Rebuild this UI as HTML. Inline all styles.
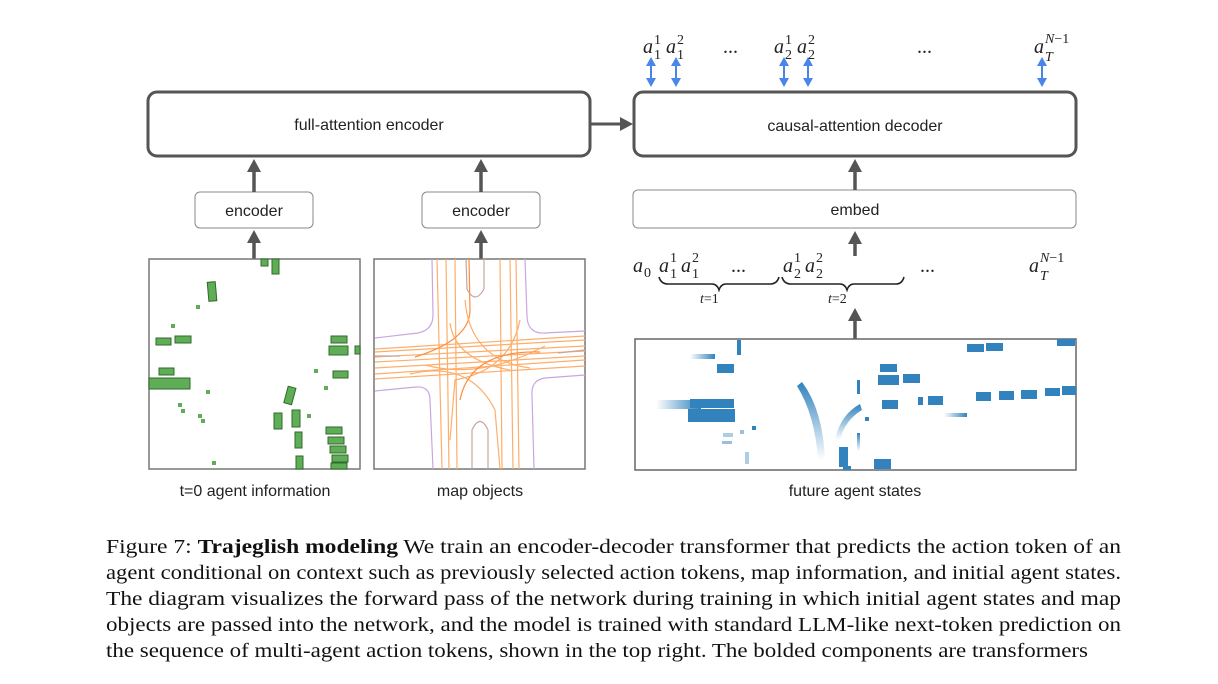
<!DOCTYPE html>
<html><head><meta charset="utf-8"><style>
html,body{margin:0;padding:0;background:#fff;}
svg{display:block;}
.sans{font-family:"Liberation Sans",sans-serif;}
.ser{font-family:"Liberation Serif",serif;}
.m{font-family:"Liberation Serif",serif;font-style:italic;}
</style></head><body>
<svg width="1218" height="684" viewBox="0 0 1218 684" xmlns="http://www.w3.org/2000/svg">
<defs>
<marker id="ah" markerWidth="10" markerHeight="10" refX="5" refY="5" orient="auto" markerUnits="userSpaceOnUse">
<path d="M0,0 L10,5 L0,10 z" fill="#555"/></marker>
<linearGradient id="fl" x1="1" x2="0" y1="0" y2="0"><stop offset="0" stop-color="#3182bd"/><stop offset="1" stop-color="#3182bd" stop-opacity="0"/></linearGradient>
<linearGradient id="fd" x1="0" x2="0" y1="0" y2="1"><stop offset="0" stop-color="#3182bd"/><stop offset="1" stop-color="#3182bd" stop-opacity="0"/></linearGradient>
</defs>

<!-- big boxes -->
<rect x="148" y="92" width="442" height="64" rx="9" fill="#fff" stroke="#555" stroke-width="3"/>
<text x="369" y="130" class="sans" font-size="16" text-anchor="middle" fill="#222">full-attention encoder</text>
<rect x="634" y="92" width="442" height="64" rx="9" fill="#fff" stroke="#555" stroke-width="3"/>
<text x="855" y="131" class="sans" font-size="16" text-anchor="middle" fill="#222">causal-attention decoder</text>
<line x1="591" y1="124" x2="624" y2="124" stroke="#555" stroke-width="3"/>
<path d="M620,117 L633,124 L620,131 z" fill="#555"/>

<!-- small boxes -->
<rect x="195" y="192" width="118" height="36" rx="5" fill="#fff" stroke="#888" stroke-width="1"/>
<text x="254" y="216" class="sans" font-size="16" text-anchor="middle" fill="#222">encoder</text>
<rect x="422" y="192" width="118" height="36" rx="5" fill="#fff" stroke="#888" stroke-width="1"/>
<text x="481" y="216" class="sans" font-size="16" text-anchor="middle" fill="#222">encoder</text>
<rect x="633" y="190" width="443" height="38" rx="5" fill="#fff" stroke="#888" stroke-width="1"/>
<text x="855" y="215" class="sans" font-size="16" text-anchor="middle" fill="#222">embed</text>

<!-- up arrows -->
<g stroke="#555" stroke-width="3.5" fill="#555">
<line x1="254" y1="192" x2="254" y2="170"/><path d="M247,172 L254,159 L261,172 z" stroke="none"/>
<line x1="481" y1="192" x2="481" y2="170"/><path d="M474,172 L481,159 L488,172 z" stroke="none"/>
<line x1="855" y1="190" x2="855" y2="170"/><path d="M848,172 L855,159 L862,172 z" stroke="none"/>
<line x1="254" y1="259" x2="254" y2="242"/><path d="M247,243 L254,230 L261,243 z" stroke="none"/>
<line x1="481" y1="259" x2="481" y2="242"/><path d="M474,243 L481,230 L488,243 z" stroke="none"/>
<line x1="855" y1="256" x2="855" y2="243"/><path d="M848,244 L855,231 L862,244 z" stroke="none"/>
<line x1="855" y1="339" x2="855" y2="320"/><path d="M848,321 L855,308 L862,321 z" stroke="none"/>
</g>

<!-- blue double arrows -->
<g fill="#4a86e8" stroke="#4a86e8" stroke-width="2">
<g id="da"><line x1="651" y1="63" x2="651" y2="81"/><path d="M646,66 L651,57 L656,66 z" stroke="none"/><path d="M646,78 L651,87 L656,78 z" stroke="none"/></g>
<use href="#da" x="25"/><use href="#da" x="133"/><use href="#da" x="157"/><use href="#da" x="391"/>
</g>

<!-- top tokens -->
<g class="m" font-size="20" fill="#222">
<text x="643" y="53">a</text><text x="654" y="59" font-size="14" font-style="normal">1</text><text x="654" y="44" font-size="14" font-style="normal">1</text>
<text x="666" y="53">a</text><text x="677" y="59" font-size="14" font-style="normal">1</text><text x="677" y="44" font-size="14" font-style="normal">2</text>
<text x="723" y="53" font-style="normal">...</text>
<text x="774" y="53">a</text><text x="785" y="59" font-size="14" font-style="normal">2</text><text x="785" y="44" font-size="14" font-style="normal">1</text>
<text x="797" y="53">a</text><text x="808" y="59" font-size="14" font-style="normal">2</text><text x="808" y="44" font-size="14" font-style="normal">2</text>
<text x="917" y="53" font-style="normal">...</text>
<text x="1034" y="53">a</text><text x="1045" y="61" font-size="14">T</text><text x="1045" y="43" font-size="14">N<tspan font-style="normal">−1</tspan></text>
</g>

<!-- bottom tokens -->
<g class="m" font-size="20" fill="#222">
<text x="633" y="272">a</text><text x="644" y="277" font-size="14" font-style="normal">0</text>
<text x="659" y="272">a</text><text x="670" y="278" font-size="14" font-style="normal">1</text><text x="670" y="262" font-size="14" font-style="normal">1</text>
<text x="681" y="272">a</text><text x="692" y="278" font-size="14" font-style="normal">1</text><text x="692" y="262" font-size="14" font-style="normal">2</text>
<text x="731" y="272" font-style="normal">...</text>
<text x="783" y="272">a</text><text x="794" y="278" font-size="14" font-style="normal">2</text><text x="794" y="262" font-size="14" font-style="normal">1</text>
<text x="805" y="272">a</text><text x="816" y="278" font-size="14" font-style="normal">2</text><text x="816" y="262" font-size="14" font-style="normal">2</text>
<text x="920" y="272" font-style="normal">...</text>
<text x="1029" y="272">a</text><text x="1040" y="280" font-size="14">T</text><text x="1040" y="262" font-size="14">N<tspan font-style="normal">−1</tspan></text>
<text x="700" y="303" font-size="14">t<tspan font-style="normal">=1</tspan></text>
<text x="828" y="303" font-size="14">t<tspan font-style="normal">=2</tspan></text>
</g>
<g fill="none" stroke="#222" stroke-width="1.6">
<path d="M659,277 Q661,284 668,284 L712,284 Q717,284 719,290 Q721,284 726,284 L770,284 Q777,284 779,277"/>
<path d="M782,277 Q784,284 791,284 L840,284 Q845,284 847,290 Q849,284 854,284 L896,284 Q902,284 904,277"/>
</g>

<!-- agent panel -->
<rect x="149" y="259" width="211" height="210" fill="#fff" stroke="#777" stroke-width="1.5"/>
<g fill="#5fad56" stroke="#2f6b2a" stroke-width="1">
<rect x="261" y="259" width="7" height="7"/><rect x="272" y="259" width="7" height="15"/>
<rect x="208" y="282" width="8" height="19" transform="rotate(-5 212 291)"/>
<rect x="156" y="338" width="15" height="7"/><rect x="175" y="336" width="16" height="7"/>
<rect x="159" y="368" width="15" height="7"/><rect x="149" y="378" width="41" height="11"/>
<rect x="331" y="336" width="16" height="7"/><rect x="329" y="346" width="19" height="9"/><rect x="355" y="346" width="5" height="8"/>
<rect x="333" y="371" width="15" height="7"/>
<rect x="286" y="387" width="8" height="17" transform="rotate(15 290 395)"/>
<rect x="274" y="413" width="8" height="16"/><rect x="292" y="410" width="8" height="17"/>
<rect x="295" y="432" width="7" height="16"/><rect x="296" y="456" width="7" height="13"/>
<rect x="326" y="427" width="16" height="7"/><rect x="328" y="437" width="16" height="7"/>
<rect x="330" y="446" width="16" height="7"/><rect x="332" y="455" width="16" height="7"/><rect x="331" y="463" width="16" height="6"/>
</g>
<g fill="#5fad56">
<rect x="196" y="305" width="4" height="4"/><rect x="171" y="324" width="4" height="4"/><rect x="206" y="390" width="4" height="4"/>
<rect x="178" y="403" width="4" height="4"/><rect x="181" y="409" width="4" height="4"/><rect x="198" y="414" width="4" height="4"/>
<rect x="201" y="419" width="4" height="4"/><rect x="314" y="369" width="4" height="4"/><rect x="324" y="386" width="4" height="4"/>
<rect x="307" y="414" width="4" height="4"/><rect x="212" y="461" width="4" height="4"/>
</g>

<!-- map panel -->
<rect x="374" y="259" width="211" height="210" fill="#fff" stroke="#777" stroke-width="1.5"/>
<g fill="none" stroke-width="1.2" stroke="#c9a6e0">
<path d="M432,259 L433,315 Q433,330 418,333 L375,338"/>
<path d="M525,259 L527,317 Q528,334 545,333 L585,331"/>
<path d="M375,391 L416,387 Q430,386 430,400 L433,469"/>
<path d="M585,375 L545,378 Q531,380 532,395 L534,469"/>
</g>
<g fill="none" stroke="#fdae6b" stroke-width="1.2">
<path d="M437,259 L442,469"/><path d="M446,259 L449,469"/><path d="M455,259 L457,469"/>
<path d="M500,259 L502,469"/><path d="M510,259 L513,469"/><path d="M516,259 L519,469"/>
<path d="M375,352 L585,340"/><path d="M375,357 L585,346"/><path d="M375,362 L585,351"/><path d="M375,368 L585,356"/><path d="M375,374 L585,360"/>
<path d="M375,379 L585,366"/><path d="M375,349 L585,336"/>
<path d="M415,357 Q470,340 470,310 L469,259" stroke="#fd8d3c"/>
<path d="M450,323 Q455,360 510,370" />
<path d="M465,300 Q470,360 530,368"/>
<path d="M410,374 Q470,360 495,410 L500,469"/>
<path d="M520,320 Q510,370 455,380 L450,440"/>
<path d="M425,365 Q480,380 545,346"/>
<path d="M460,400 Q470,350 540,352" stroke="#fd8d3c"/>
</g>
<g fill="none" stroke="#c4a69c" stroke-width="1.2">
<path d="M466,259 L467,289 Q475,305 484,289 L484,259"/>
<path d="M472,469 L472,430 Q480,413 488,430 L488,469"/>
<path d="M375,356 L400,356"/><path d="M558,353 L585,350"/>
</g>

<!-- future panel -->
<rect x="635" y="339" width="441" height="131" fill="#fff" stroke="#666" stroke-width="1.5"/>
<g fill="#3182bd">
<rect x="690" y="354" width="25" height="5" fill="url(#fl)"/>
<rect x="737" y="340" width="4" height="15"/>
<rect x="717" y="364" width="17" height="9"/>
<rect x="656" y="400" width="45" height="9" fill="url(#fl)"/>
<rect x="690" y="399" width="44" height="9"/>
<rect x="688" y="409" width="47" height="13"/>
<rect x="880" y="364" width="17" height="8"/><rect x="878" y="375" width="21" height="10"/><rect x="903" y="374" width="17" height="9"/>
<rect x="882" y="400" width="16" height="9"/><rect x="918" y="397" width="5" height="8"/><rect x="928" y="396" width="15" height="9"/>
<rect x="967" y="344" width="17" height="8"/><rect x="986" y="343" width="17" height="8"/><rect x="1057" y="339" width="18" height="7"/>
<rect x="976" y="392" width="15" height="9"/><rect x="999" y="391" width="15" height="9"/><rect x="1021" y="390" width="16" height="9"/><rect x="1045" y="388" width="15" height="8"/><rect x="1062" y="386" width="14" height="9"/>
<rect x="944" y="413" width="23" height="4" fill="url(#fl)"/>
<rect x="839" y="447" width="9" height="20"/><rect x="843" y="466" width="8" height="4"/><rect x="874" y="459" width="17" height="10"/>
<rect x="752" y="426" width="4" height="4"/><rect x="865" y="417" width="4" height="4"/>
<rect x="857" y="380" width="3" height="14"/><rect x="857" y="433" width="3" height="18" fill="url(#fd)"/>
<path d="M802,382 Q823,410 825,460 L818,460 Q815,415 797,386 z" fill="url(#fd)"/>
<path d="M860,404 Q840,415 835,440 L840,440 Q845,420 862,410 z" fill="url(#fd)"/>
<rect x="740" y="430" width="4" height="4" opacity="0.5"/><rect x="745" y="452" width="4" height="12" opacity="0.4"/>
<rect x="723" y="433" width="10" height="4" opacity="0.4"/><rect x="722" y="441" width="10" height="3" opacity="0.5"/>
</g>

<text x="255" y="496" class="sans" font-size="16" text-anchor="middle" fill="#222">t=0 agent information</text>
<text x="480" y="496" class="sans" font-size="16" text-anchor="middle" fill="#222">map objects</text>
<text x="855" y="496" class="sans" font-size="16" text-anchor="middle" fill="#222">future agent states</text>

<g class="ser" font-size="20" fill="#111">
<text x="106" y="553" textLength="1015" lengthAdjust="spacingAndGlyphs">Figure 7:  <tspan font-weight="bold">Trajeglish modeling</tspan> We train an encoder-decoder transformer that predicts the action token of an</text>
<text x="106" y="579" textLength="1015" lengthAdjust="spacingAndGlyphs">agent conditional on context such as previously selected action tokens, map information, and initial agent states.</text>
<text x="106" y="605" textLength="1015" lengthAdjust="spacingAndGlyphs">The diagram visualizes the forward pass of the network during training in which initial agent states and map</text>
<text x="106" y="631" textLength="1015" lengthAdjust="spacingAndGlyphs">objects are passed into the network, and the model is trained with standard LLM-like next-token prediction on</text>
<text x="106" y="657" textLength="982" lengthAdjust="spacingAndGlyphs">the sequence of multi-agent action tokens, shown in the top right. The bolded components are transformers</text>
</g>
</svg>
</body></html>
